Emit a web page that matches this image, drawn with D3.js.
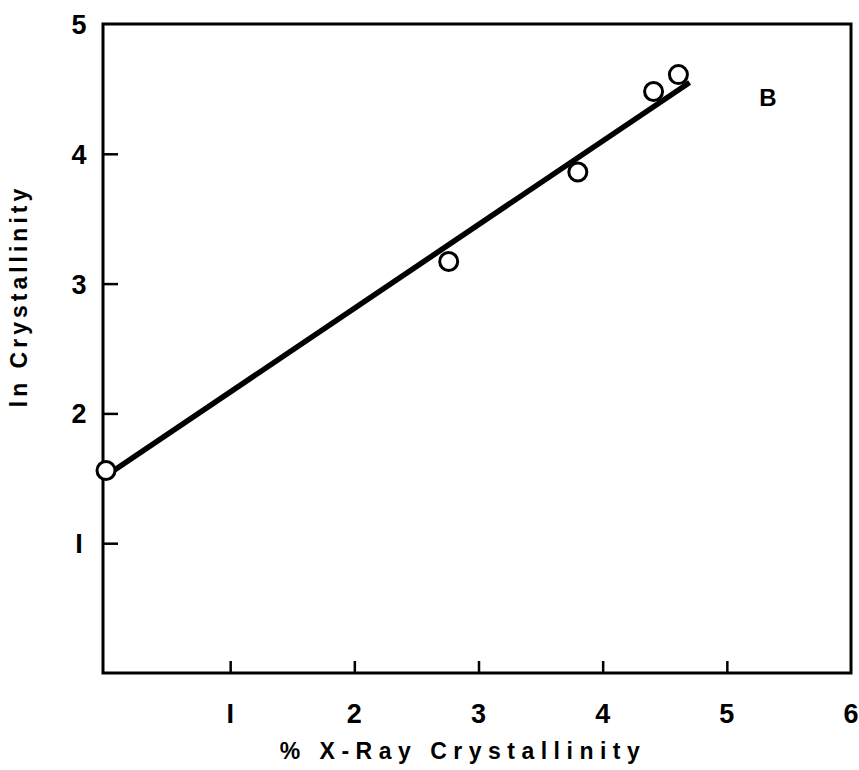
<!DOCTYPE html>
<html>
<head>
<meta charset="utf-8">
<script src="https://cdn.jsdelivr.net/npm/d3@7"></script>
<style>
  html, body { margin: 0; padding: 0; background: #fff; }
  svg { display: block; }
  text { font-family: "Liberation Sans", Arial, sans-serif; font-weight: bold; fill: #000; }
</style>
</head>
<body>
<svg id="chart" width="859" height="770"></svg>
<script>
// Measured samples: % X-ray crystallinity vs. ln crystallinity
const xValues = [0.0, 2.76, 3.80, 4.41, 4.61];
const yValues = [1.56, 3.17, 3.86, 4.48, 4.61];
// Fitted straight line (start and end of the drawn segment)
const fitX = [0.0, 4.70];
const fitY = [1.52, 4.55];
const xTicks = [1, 2, 3, 4, 5, 6];
const yTicks = [1, 2, 3, 4, 5];
const xTitle = "% X-Ray Crystallinity";
const yTitle = "ln Crystallinity";
const panelLabel = "B";

const svg = d3.select("#chart");
const plotLeft = 103, plotRight = 851, plotTop = 24, plotBottom = 673;

const x = d3.scaleLinear().domain([0, 6]).range([plotLeft + 3, plotRight]);
const y = d3.scaleLinear().domain([0, 5]).range([plotBottom, plotTop]);

// Frame
svg.append("rect")
  .attr("x", plotLeft).attr("y", plotTop)
  .attr("width", plotRight - plotLeft).attr("height", plotBottom - plotTop)
  .attr("fill", "none").attr("stroke", "#000").attr("stroke-width", 3);

// Inward ticks
const xAxis = d3.axisTop(x).tickValues(xTicks.filter(d => d < 6)).tickSize(12).tickFormat("");
svg.append("g").attr("transform", `translate(0,${plotBottom})`).call(xAxis)
  .call(g => g.select(".domain").remove())
  .call(g => g.selectAll("line").attr("stroke", "#000").attr("stroke-width", 2.5));

const yAxis = d3.axisRight(y).tickValues(yTicks.filter(d => d < 5)).tickSize(15).tickFormat("");
svg.append("g").attr("transform", `translate(${plotLeft},0)`).call(yAxis)
  .call(g => g.select(".domain").remove())
  .call(g => g.selectAll("line").attr("stroke", "#000").attr("stroke-width", 2.5));

// Tick labels
svg.append("g").selectAll("text").data(xTicks).join("text")
  .attr("x", d => x(d)).attr("y", 723)
  .attr("text-anchor", "middle")
  .attr("font-size", 27)
  .text(d => d === 1 ? "I" : d);

svg.append("g").selectAll("text").data(yTicks).join("text")
  .attr("x", 79).attr("y", d => y(d) + 10)
  .attr("text-anchor", "middle")
  .attr("font-size", 27)
  .text(d => d === 1 ? "I" : d);

// Axis titles
svg.append("text")
  .attr("x", 463).attr("y", 759)
  .attr("text-anchor", "middle")
  .attr("font-size", 23)
  .attr("letter-spacing", 6.5)
  .text(xTitle);

svg.append("text")
  .attr("transform", "translate(27,296) rotate(-90)")
  .attr("text-anchor", "middle")
  .attr("font-size", 23)
  .attr("letter-spacing", 4)
  .text(yTitle);

// Fit line
svg.append("line")
  .attr("x1", x(fitX[0])).attr("y1", y(fitY[0]))
  .attr("x2", x(fitX[1])).attr("y2", y(fitY[1]))
  .attr("stroke", "#000").attr("stroke-width", 5.5);

// Data points (open circles)
svg.append("g").selectAll("circle").data(xValues.map((v, i) => [v, yValues[i]])).join("circle")
  .attr("cx", d => x(d[0])).attr("cy", d => y(d[1]))
  .attr("r", 9)
  .attr("fill", "#fff").attr("stroke", "#000").attr("stroke-width", 3);

// Panel label
svg.append("text")
  .attr("x", 768).attr("y", 106)
  .attr("text-anchor", "middle")
  .attr("font-size", 24)
  .text(panelLabel);
</script>
</body>
</html>
